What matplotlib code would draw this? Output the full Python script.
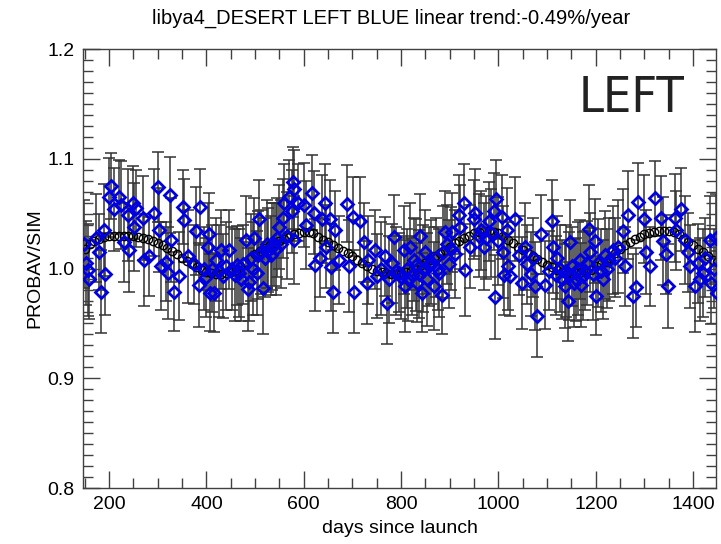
import matplotlib
matplotlib.use("Agg")
import matplotlib.pyplot as plt
from matplotlib.ticker import MultipleLocator

plt.rcParams['font.family'] = ['Liberation Sans', 'DejaVu Sans']

# measured ratio PROBAV/SIM (blue diamonds) with uncertainty
days = [
    149, 152, 156, 158, 173, 179, 183, 189, 191, 200,
    204, 210, 220, 224, 230, 239, 241, 249, 251, 255,
    270, 272, 282, 292, 301, 303, 307, 317, 321, 325,
    327, 334, 344, 352, 354, 362, 375, 379, 385, 387,
    395, 400, 404, 406, 408, 412, 416, 420, 425, 430,
    435, 441, 447, 452, 458, 462, 466, 472, 476, 482,
    486, 488, 492, 495, 498, 503, 506, 509, 512, 517,
    520, 524, 527, 532, 535, 538, 542, 546, 550, 553,
    558, 560, 565, 569, 575, 577, 579, 581, 589, 600,
    605, 616, 622, 624, 633, 637, 643, 645, 653, 657,
    661, 664, 672, 688, 694, 702, 704, 715, 723, 729,
    733, 746, 750, 758, 767, 771, 775, 781, 785, 790,
    795, 800, 805, 808, 812, 815, 818, 822, 826, 830,
    833, 836, 839, 843, 846, 849, 853, 857, 862, 868,
    872, 876, 878, 884, 886, 890, 894, 898, 902, 905,
    911, 919, 921, 929, 931, 942, 950, 952, 960, 965,
    971, 975, 981, 985, 991, 993, 995, 1000, 1008, 1009,
    1012, 1018, 1020, 1024, 1035, 1049, 1059, 1076, 1080, 1088,
    1096, 1103, 1111, 1113, 1118, 1121, 1126, 1130, 1136, 1138,
    1142, 1145, 1148, 1152, 1156, 1160, 1163, 1167, 1170, 1173,
    1178, 1182, 1187, 1189, 1194, 1198, 1200, 1205, 1210, 1214,
    1218, 1222, 1228, 1235, 1240, 1245, 1255, 1259, 1266, 1276,
    1282, 1286, 1300, 1303, 1311, 1321, 1334, 1338, 1344, 1348,
    1362, 1365, 1375, 1383, 1389, 1393, 1404, 1410, 1415, 1420,
    1425, 1435, 1437, 1442, 1447, 1449, 1042, 1054, 1066, 1070,
]
ratio = [
    1.022, 1.005, 0.999, 0.990, 1.028, 1.015, 0.979, 1.035, 0.995, 1.065,
    1.075, 1.054, 1.065, 1.058, 1.024, 1.049, 1.017, 1.060, 1.038, 1.055,
    1.046, 1.008, 1.011, 1.051, 1.074, 1.035, 1.002, 1.006, 0.996, 1.067,
    1.026, 0.979, 0.993, 1.056, 1.044, 1.011, 1.004, 1.034, 0.985, 1.056,
    1.000, 0.992, 1.020, 1.031, 0.978, 1.000, 0.978, 1.008, 0.998, 1.017,
    0.993, 1.002, 1.017, 1.000, 0.994, 1.003, 0.996, 0.990, 1.004, 1.026,
    0.981, 0.988, 1.010, 1.000, 1.028, 0.996, 1.012, 1.045, 1.015, 0.982,
    1.010, 1.022, 1.017, 1.012, 1.020, 1.022, 1.018, 1.028, 1.038, 1.022,
    1.046, 1.060, 1.030, 1.065, 1.052, 1.079, 1.072, 1.026, 1.060, 1.058,
    1.040, 1.069, 1.051, 1.003, 1.010, 1.045, 1.060, 1.020, 1.045, 1.001,
    0.979, 1.035, 1.008, 1.059, 1.002, 1.047, 0.979, 1.043, 1.024, 0.987,
    1.008, 1.017, 0.993, 1.000, 1.011, 0.969, 0.990, 1.005, 1.029, 0.998,
    0.996, 0.992, 1.017, 0.984, 1.000, 0.990, 1.020, 0.994, 1.008, 1.003,
    0.987, 0.995, 1.030, 0.978, 1.000, 1.015, 0.990, 1.002, 1.006, 0.984,
    1.010, 1.000, 0.996, 0.976, 1.015, 1.033, 1.022, 1.004, 1.018, 1.033,
    1.013, 1.049, 1.038, 1.060, 0.999, 1.020, 1.045, 1.051, 1.030, 1.035,
    1.020, 1.028, 1.043, 1.032, 1.052, 0.974, 1.063, 1.025, 1.047, 1.015,
    0.994, 1.035, 1.002, 0.993, 1.045, 0.987, 1.004, 0.984, 0.957, 1.031,
    0.985, 0.998, 1.043, 1.020, 0.994, 1.010, 1.000, 0.990, 0.984, 0.998,
    0.970, 0.993, 1.024, 1.002, 0.987, 0.990, 1.000, 1.008, 0.985, 0.993,
    0.998, 1.005, 1.036, 1.015, 0.995, 1.025, 0.975, 1.005, 0.998, 0.990,
    1.012, 1.000, 1.008, 1.017, 1.010, 1.020, 1.034, 1.002, 1.049, 0.975,
    0.983, 1.061, 1.045, 1.015, 1.002, 1.064, 1.046, 1.025, 1.013, 0.984,
    1.046, 1.035, 1.054, 1.026, 1.015, 1.002, 0.984, 1.005, 0.990, 0.996,
    1.010, 1.026, 0.987, 1.000, 1.028, 0.978, 1.012, 1.020, 0.995, 1.010,
]
err = [
    0.040, 0.038, 0.042, 0.036, 0.040, 0.035, 0.038, 0.042, 0.037, 0.036,
    0.030, 0.038, 0.034, 0.040, 0.036, 0.042, 0.038, 0.033, 0.040, 0.035,
    0.038, 0.042, 0.036, 0.040, 0.032, 0.038, 0.040, 0.036, 0.042, 0.035,
    0.038, 0.036, 0.040, 0.034, 0.038, 0.042, 0.036, 0.040, 0.038, 0.035,
    0.038, 0.036, 0.040, 0.038, 0.035, 0.040, 0.036, 0.038, 0.042, 0.036,
    0.038, 0.040, 0.036, 0.038, 0.042, 0.036, 0.040, 0.038, 0.036, 0.040,
    0.038, 0.036, 0.040, 0.042, 0.036, 0.038, 0.040, 0.036, 0.038, 0.042,
    0.036, 0.040, 0.038, 0.036, 0.040, 0.038, 0.042, 0.036, 0.038, 0.040,
    0.036, 0.035, 0.040, 0.034, 0.038, 0.032, 0.036, 0.040, 0.035, 0.038,
    0.040, 0.034, 0.038, 0.042, 0.036, 0.040, 0.035, 0.038, 0.036, 0.040,
    0.038, 0.036, 0.040, 0.035, 0.042, 0.036, 0.038, 0.040, 0.036, 0.038,
    0.040, 0.036, 0.038, 0.042, 0.036, 0.038, 0.040, 0.036, 0.038, 0.040,
    0.036, 0.038, 0.040, 0.042, 0.036, 0.038, 0.040, 0.036, 0.038, 0.042,
    0.036, 0.040, 0.038, 0.036, 0.040, 0.038, 0.042, 0.036, 0.038, 0.040,
    0.036, 0.038, 0.040, 0.036, 0.042, 0.038, 0.036, 0.040, 0.038, 0.036,
    0.040, 0.036, 0.038, 0.035, 0.042, 0.038, 0.036, 0.040, 0.038, 0.036,
    0.040, 0.038, 0.036, 0.040, 0.035, 0.038, 0.036, 0.040, 0.038, 0.042,
    0.036, 0.038, 0.040, 0.036, 0.038, 0.042, 0.036, 0.040, 0.038, 0.036,
    0.040, 0.036, 0.038, 0.042, 0.036, 0.038, 0.040, 0.036, 0.038, 0.042,
    0.036, 0.040, 0.038, 0.036, 0.040, 0.038, 0.042, 0.036, 0.038, 0.040,
    0.036, 0.038, 0.040, 0.036, 0.042, 0.038, 0.036, 0.040, 0.038, 0.036,
    0.040, 0.036, 0.038, 0.040, 0.036, 0.042, 0.038, 0.036, 0.040, 0.038,
    0.036, 0.035, 0.040, 0.038, 0.036, 0.034, 0.038, 0.040, 0.036, 0.038,
    0.040, 0.036, 0.038, 0.040, 0.036, 0.038, 0.042, 0.036, 0.038, 0.040,
    0.036, 0.040, 0.038, 0.036, 0.040, 0.038, 0.036, 0.040, 0.038, 0.036,
]

# seasonal fit (black open circles)
fit_days = [
    150, 160, 170, 180, 190, 200, 210, 220, 230, 240,
    250, 260, 270, 280, 290, 300, 310, 320, 330, 340,
    350, 360, 370, 380, 390, 400, 410, 420, 430, 440,
    450, 460, 470, 480, 490, 500, 510, 520, 530, 540,
    550, 560, 570, 580, 590, 600, 610, 620, 630, 640,
    650, 660, 670, 680, 690, 700, 710, 720, 730, 740,
    750, 760, 770, 780, 790, 800, 810, 820, 830, 840,
    850, 860, 870, 880, 890, 900, 910, 920, 930, 940,
    950, 960, 970, 980, 990, 1000, 1010, 1020, 1030, 1040,
    1050, 1060, 1070, 1080, 1090, 1100, 1110, 1120, 1130, 1140,
    1150, 1160, 1170, 1180, 1190, 1200, 1210, 1220, 1230, 1240,
    1250, 1260, 1270, 1280, 1290, 1300, 1310, 1320, 1330, 1340,
    1350, 1360, 1370, 1380, 1390, 1400, 1410, 1420, 1430, 1440,
    1450,
]
fit_vals = [
    1.018, 1.022, 1.025, 1.027, 1.029, 1.030, 1.030, 1.030, 1.030, 1.030,
    1.030, 1.029, 1.028, 1.027, 1.025, 1.023, 1.021, 1.019, 1.016, 1.013,
    1.010, 1.007, 1.004, 1.001, 0.999, 0.997, 0.996, 0.995, 0.995, 0.996,
    0.997, 0.999, 1.002, 1.006, 1.009, 1.013, 1.016, 1.019, 1.021, 1.023,
    1.025, 1.027, 1.029, 1.031, 1.032, 1.033, 1.033, 1.032, 1.029, 1.026,
    1.024, 1.021, 1.019, 1.016, 1.014, 1.011, 1.008, 1.005, 1.002, 1.000,
    0.998, 0.997, 0.996, 0.995, 0.995, 0.996, 0.997, 0.998, 1.000, 1.003,
    1.005, 1.008, 1.011, 1.014, 1.017, 1.020, 1.023, 1.025, 1.028, 1.030,
    1.032, 1.033, 1.034, 1.034, 1.033, 1.032, 1.030, 1.026, 1.023, 1.020,
    1.017, 1.014, 1.011, 1.009, 1.006, 1.003, 1.001, 0.999, 0.997, 0.996,
    0.996, 0.996, 0.997, 0.998, 0.999, 1.002, 1.004, 1.006, 1.010, 1.014,
    1.018, 1.021, 1.024, 1.027, 1.029, 1.031, 1.032, 1.033, 1.034, 1.034,
    1.034, 1.033, 1.031, 1.027, 1.024, 1.021, 1.018, 1.015, 1.011, 1.008,
    1.006,
]

title = "libya4_DESERT LEFT BLUE linear trend:-0.49%/year"

fig = plt.figure(figsize=(7.21, 5.44), dpi=100)
ax = fig.add_axes([0.1151, 0.1029, 0.878, 0.807])

ax.errorbar(days, ratio, yerr=err, fmt='none', ecolor='0.2', elinewidth=1.1,
            capsize=4, capthick=1.1, zorder=1)
ax.plot(fit_days, fit_vals, linestyle='none', marker='o', markersize=6,
        markerfacecolor='none', markeredgecolor='black', markeredgewidth=1.0,
        zorder=2)
ax.plot(days, ratio, linestyle='none', marker='D', markersize=6.5,
        markerfacecolor='none', markeredgecolor='#0000e0', markeredgewidth=2.0,
        zorder=3)

ax.set_xlim(146.5, 1447)
ax.set_ylim(0.8, 1.2)
ax.xaxis.set_major_locator(MultipleLocator(200))
ax.xaxis.set_minor_locator(MultipleLocator(50))
ax.yaxis.set_major_locator(MultipleLocator(0.1))
ax.yaxis.set_minor_locator(MultipleLocator(0.01))
ax.set_yticks([0.8, 0.9, 1.0, 1.1, 1.2])
ax.set_yticklabels(["0.8", "0.9", "1.0", "1.1", "1.2"])
ax.tick_params(which='both', direction='in', top=True, right=True,
               labelsize=14, color='0.25', width=1)
ax.tick_params(which='major', length=12, pad=6)
ax.tick_params(which='minor', length=7)
for s in ax.spines.values():
    s.set_color('0.25')
    s.set_linewidth(1)

ax.set_xlabel("days since launch", fontsize=14, labelpad=5)
ax.set_ylabel("PROBAV/SIM", fontsize=14)
ax.yaxis.set_label_coords(-0.062, 0.5)
ax.set_title(title, fontsize=14.5, pad=18, x=0.487)

ax.text(0.95, 0.888, "LEFT", transform=ax.transAxes, ha='right', va='center',
        fontsize=36, color='#222222', fontstretch='condensed',
        family=['DejaVu Sans'])

fig.savefig("out.png", dpi=100)
